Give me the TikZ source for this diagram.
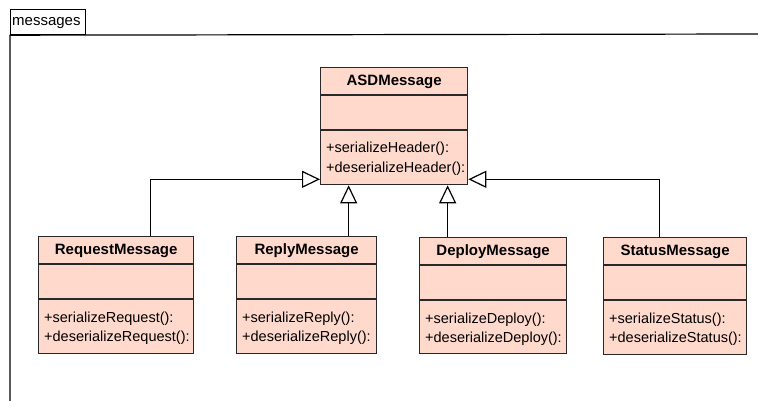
\documentclass[tikz,border=0pt]{standalone}
\usepackage{fontspec}
\setmainfont{Liberation Sans}
\usetikzlibrary{arrows.meta}
\definecolor{classfill}{RGB}{255,218,204}
\definecolor{edge}{RGB}{40,40,40}
\tikzset{
  classbox/.style={draw=edge, line width=1.3pt, fill=classfill, rectangle, inner sep=0pt},
  sepline/.style={draw=edge, line width=1.3pt},
  classtitle/.style={font=\fontsize{15}{18}\selectfont\bfseries, inner sep=0pt, anchor=center},
  classop/.style={font=\fontsize{14.5}{17}\selectfont, inner sep=0pt, anchor=base west},
  gen/.style={draw=black, line width=1.2pt, -{Triangle[open, length=18pt, width=17pt, fill=white]}},
  frame/.style={draw=black, line width=1.2pt},
}
\newcommand{\umlclass}[8]{%
  \node[classbox, anchor=north west, minimum width=#4pt-#2pt, minimum height=#5pt-#3pt] (#1) at (#2pt,-#3pt) {};
  \draw[sepline] ([yshift=-28pt]#1.north west) -- ([yshift=-28pt]#1.north east);
  \draw[sepline] ([yshift=-63pt]#1.north west) -- ([yshift=-63pt]#1.north east);
  \node[classtitle] (#1-title) at ([yshift=-15pt]#1.north) {#6};
  \node[classop] (#1-op1) at ([xshift=6pt,yshift=-86pt]#1.north west) {#7};
  \node[classop] (#1-op2) at ([xshift=6pt,yshift=-105pt]#1.north west) {#8};
}
\begin{document}
\begin{tikzpicture}[x=1pt,y=1pt]
  \useasboundingbox (0,0) rectangle (758,-401);
  % package frame
  \node[draw=black, line width=1.2pt, anchor=north west, minimum width=75pt, minimum height=25pt, inner sep=0pt] (tab) at (10,-9) {};
  \node[font=\fontsize{15}{18}\selectfont, anchor=west, inner sep=0pt] (tablabel) at ([xshift=2pt,yshift=-1pt]tab.west) {messages};
  \coordinate (frTR) at (760,-34);
  \coordinate (frBL) at (10,-403);
  \draw[frame] (frBL) -- (tab.south west) -- (frTR);
  % classes
  \umlclass{asd}{320}{67}{467}{184}{ASDMessage}{+serializeHeader():}{+deserializeHeader():}
  \umlclass{req}{38}{236}{193}{353}{RequestMessage}{+serializeRequest():}{+deserializeRequest():}
  \umlclass{rep}{236}{236}{376}{353}{ReplyMessage}{+serializeReply():}{+deserializeReply():}
  \umlclass{dep}{419}{237}{566}{353}{DeployMessage}{+serializeDeploy():}{+deserializeDeploy():}
  \umlclass{sta}{603}{237}{746}{354}{StatusMessage}{+serializeStatus():}{+deserializeStatus():}
  % generalizations
  \draw[gen] ([xshift=34.5pt]req.north) |- ([yshift=6pt]asd.south west);
  \draw[gen] ([xshift=42pt]rep.north) -- ([xshift=42pt]rep.north |- asd.south);
  \draw[gen] ([xshift=-45.5pt]dep.north) -- ([xshift=-45.5pt]dep.north |- asd.south);
  \draw[gen] ([xshift=-15.5pt]sta.north) |- ([yshift=6pt]asd.south east);
\end{tikzpicture}
\end{document}
